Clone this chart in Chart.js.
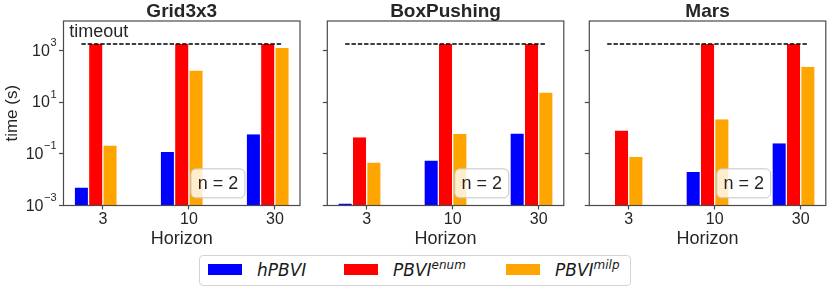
<!DOCTYPE html>
<html>
<head>
<meta charset="utf-8">
<script src="https://cdn.jsdelivr.net/npm/chart.js@4.4.0/dist/chart.umd.min.js"></script>
<style>
  body { margin: 0; background: #fff; }
  #fig { position: relative; width: 830px; height: 295px; overflow: hidden; }
  #fig canvas { position: absolute; top: 0; }
  #legend {
    position: absolute; left: 199px; top: 255px; width: 432px; height: 31px;
    box-sizing: border-box; border: 1px solid #d4d4d4; border-radius: 4px; background: #fff;
    font-family: 'DejaVu Sans'; font-style: italic; font-size: 17px; color: #1a1a1a;
  }
  #legend .sw { position: absolute; top: 8px; width: 34px; height: 11px; }
  #legend .lab { position: absolute; top: 4px; line-height: 20px; white-space: nowrap; }
  #legend sup { font-size: 12px; vertical-align: 7px; line-height: 0; }
</style>
</head>
<body>
<div id="fig">
  <canvas id="p0"></canvas>
  <canvas id="p1"></canvas>
  <canvas id="p2"></canvas>
  <div id="legend"></div>
</div>
<script>
// horizons on the x axis
const horizons = ['3', '10', '30'];
const methods = ['hPBVI', 'PBVI^enum', 'PBVI^milp'];
const colors = ['#0000ff', '#ff0000', '#ffa500'];
const yTickValues = [1e-3, 1e-1, 1e1, 1e3];
const TIMEOUT = 1800;
const timeoutSpan = [-0.25, 2.083];

// time (s) per horizon
const gridHPBVI = [0.005, 0.117, 0.58];
const gridEnum  = [1800, 1800, 1800];
const gridMilp  = [0.21, 170, 1250];

const boxHPBVI = [0.0012, 0.055, 0.62];
const boxEnum  = [0.44, 1800, 1800];
const boxMilp  = [0.046, 0.60, 24];

const marsHPBVI = [null, 0.020, 0.26];
const marsEnum  = [0.81, 1800, 1800];
const marsMilp  = [0.076, 2.2, 236];

const panels = [
  { id: 'p0', title: 'Grid3x3', series: [gridHPBVI, gridEnum, gridMilp], left: 0, width: 304, yW: 63.5, first: true },
  { id: 'p1', title: 'BoxPushing', series: [boxHPBVI, boxEnum, boxMilp], left: 310, width: 258, yW: 17.3 },
  { id: 'p2', title: 'Mars', series: [marsHPBVI, marsEnum, marsMilp], left: 572, width: 258, yW: 17.3 }
];

const TEXT = '#262626';
const SPINE = '#4a4a4a';
const FONT = "'Liberation Sans', Arial, sans-serif";

function decor(p) {
  return {
    id: 'decor',
    afterDatasetsDraw(chart) {
      const { ctx, chartArea: a, scales: { x, y } } = chart;
      ctx.save();
      // timeout line
      const ty = y.getPixelForValue(TIMEOUT);
      ctx.strokeStyle = '#000';
      ctx.lineWidth = 1.3;
      ctx.setLineDash([4.4, 1.9]);
      ctx.beginPath();
      ctx.moveTo(x.getPixelForValue(timeoutSpan[0]), ty);
      ctx.lineTo(x.getPixelForValue(timeoutSpan[1]), ty);
      ctx.stroke();
      ctx.setLineDash([]);

      // n = 2 box
      const bx = a.left + 0.653 * a.width, by = a.bottom - 0.12 * a.height;
      ctx.beginPath();
      ctx.roundRect(bx - 27, by - 14.5, 54, 29, 5);
      ctx.fillStyle = 'rgba(255,255,255,0.8)';
      ctx.fill();
      ctx.strokeStyle = '#c4c4c4';
      ctx.lineWidth = 1;
      ctx.stroke();
      ctx.fillStyle = TEXT;
      ctx.font = '18px ' + FONT;
      ctx.textAlign = 'center';
      ctx.textBaseline = 'middle';
      ctx.fillText('n = 2', bx, by + 1);

      // frame
      ctx.strokeStyle = SPINE;
      ctx.lineWidth = 1.2;
      ctx.strokeRect(a.left, a.top, a.width, a.height);

      // title
      ctx.font = 'bold 19px ' + FONT;
      ctx.fillText(p.title, (a.left + a.right) / 2, 11.5);

      if (p.first) {
        ctx.font = '18px ' + FONT;
        ctx.textAlign = 'left';
        ctx.textBaseline = 'alphabetic';
        ctx.fillText('timeout', a.left + 5.8, 37);

        // y tick labels 10^k
        ctx.textAlign = 'right';
        const xr = a.left - 7;
        yTickValues.forEach(v => {
          const py = y.getPixelForValue(v);
          const e = String(Math.round(Math.log10(v))).replace('-', '\u2212');
          ctx.font = '11px ' + FONT;
          const ew = ctx.measureText(e).width;
          ctx.fillText(e, xr, py - 4.5);
          ctx.font = '16px ' + FONT;
          ctx.fillText('10', xr - ew - 0.5, py + 5);
        });
      }
      ctx.restore();
    }
  };
}

panels.forEach(p => {
  const cv = document.getElementById(p.id);
  cv.width = p.width;
  cv.height = 295;
  cv.style.left = p.left + 'px';
  new Chart(cv, {
    type: 'bar',
    data: {
      labels: horizons.map((_, i) => i),
      datasets: [
        ...methods.map((m, k) => ({
          label: m,
          data: p.series[k],
          backgroundColor: colors[k],
          borderColor: '#fff',
          borderWidth: { left: 0.65, right: 0.65, top: 0, bottom: 0 }
        })),
        { label: '', data: horizons.map(() => null) }
      ]
    },
    options: {
      responsive: false,
      animation: false,
      layout: { padding: { top: 21, bottom: 45.5, left: 0, right: p.width - p.yW - 236.5 } },
      datasets: { bar: { categoryPercentage: 4 / 6, barPercentage: 1 } },
      plugins: { legend: { display: false }, tooltip: { enabled: false } },
      scales: {
        x: {
          type: 'linear', min: -0.458, max: 2.292, bounds: 'data', offset: false,
          afterBuildTicks: s => { s.ticks = horizons.map((_, i) => ({ value: i })); },
          afterFit: s => { s.height = 44; },
          ticks: { callback: v => horizons[v], color: TEXT, font: { family: FONT, size: 16 }, padding: 0, maxRotation: 0, autoSkip: false },
          grid: { offset: false, drawOnChartArea: false, drawTicks: true, tickLength: 4, tickColor: SPINE, tickWidth: 1.2 },
          border: { display: false },
          title: { display: true, text: 'Horizon', color: TEXT, font: { family: FONT, size: 18 }, padding: 0 }
        },
        y: {
          type: 'logarithmic', min: 1e-3, max: 14000,
          afterBuildTicks: s => { s.ticks = yTickValues.map(v => ({ value: v })); },
          afterFit: s => { s.width = p.yW; },
          ticks: { callback: () => '' },
          grid: { drawOnChartArea: false, drawTicks: true, tickLength: 4.5, tickColor: SPINE, tickWidth: 1.2 },
          border: { display: false },
          title: { display: !!p.first, text: 'time (s)', color: TEXT, font: { family: FONT, size: 17 }, padding: { top: 2, bottom: 0 } }
        }
      }
    },
    plugins: [decor(p)]
  });
});

// figure legend
const legend = document.getElementById('legend');
const swX = [8, 144, 306], labX = [57, 193, 355];
methods.forEach((m, k) => {
  const [base, sup] = m.split('^');
  legend.insertAdjacentHTML('beforeend',
    `<div class="sw" style="left:${swX[k]}px;background:${colors[k]}"></div>` +
    `<div class="lab" style="left:${labX[k]}px">${base}${sup ? '<sup>' + sup + '</sup>' : ''}</div>`);
});
</script>
</body>
</html>
